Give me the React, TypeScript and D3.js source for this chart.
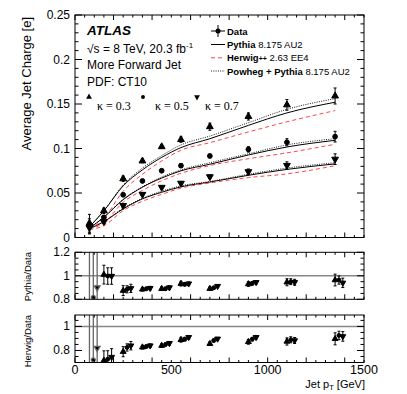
import React from 'react';
import * as d3 from 'd3';

// jet pT bin centres [GeV]
const ptBins = [75, 150, 250, 350, 450, 550, 700, 900, 1100, 1350];

// data, average jet charge for kappa = 0.3, 0.5, 0.7
const dataK03 = [0.016, 0.03, 0.066, 0.086, 0.102, 0.11, 0.1245, 0.136, 0.149, 0.159];
const dataK05 = [0.013, 0.0227, 0.048, 0.0635, 0.075, 0.0807, 0.0916, 0.099, 0.107, 0.1133];
const dataK07 = [0.011, 0.0178, 0.036, 0.0485, 0.0564, 0.061, 0.0683, 0.074, 0.081, 0.088];
const errK03 = [0.01, 0.003, 0.003, 0.002, 0.002, 0.003, 0.004, 0.004, 0.006, 0.009];
const errK05 = [0.008, 0.002, 0.002, 0.0015, 0.0015, 0.002, 0.002, 0.003, 0.004, 0.006];
const errK07 = [0.007, 0.002, 0.002, 0.0015, 0.0015, 0.002, 0.002, 0.003, 0.004, 0.006];

// Pythia 8.175 AU2
const pyK03 = [0.012, 0.03, 0.058, 0.076, 0.09, 0.101, 0.111, 0.126, 0.14, 0.152];
const pyK05 = [0.0106, 0.0227, 0.0425, 0.0565, 0.0668, 0.0749, 0.0823, 0.0927, 0.1017, 0.1092];
const pyK07 = [0.0099, 0.0178, 0.0321, 0.0434, 0.0508, 0.0569, 0.0623, 0.0699, 0.0765, 0.0827];
// Herwig++ 2.63 EE4
const hwK03 = [0.009, 0.0215, 0.052, 0.071, 0.086, 0.098, 0.1066, 0.1186, 0.13, 0.1426];
const hwK05 = [0.0094, 0.0165, 0.0396, 0.0529, 0.0638, 0.0721, 0.0809, 0.0885, 0.0951, 0.1048];
const hwK07 = [0.009, 0.0133, 0.0302, 0.0407, 0.0485, 0.0555, 0.0613, 0.0673, 0.0715, 0.0807];
// Powheg + Pythia 8.175 AU2
const pwK03 = [0.012, 0.03, 0.059, 0.078, 0.092, 0.104, 0.114, 0.129, 0.144, 0.156];
const pwK05 = [0.011, 0.023, 0.043, 0.057, 0.068, 0.076, 0.084, 0.094, 0.104, 0.111];
const pwK07 = [0.01, 0.018, 0.033, 0.044, 0.052, 0.058, 0.063, 0.071, 0.078, 0.084];

// ratios to data
const ratioPyK03 = [0.75, 1.01, 0.874, 0.885, 0.89, 0.933, 0.89, 0.93, 0.945, 0.964];
const ratioPyK05 = [0.817, 0.998, 0.885, 0.89, 0.89, 0.928, 0.898, 0.936, 0.95, 0.964];
const ratioPyK07 = [0.9, 0.998, 0.893, 0.895, 0.9, 0.933, 0.912, 0.945, 0.945, 0.94];
const ratioHwK03 = [0.56, 0.717, 0.79, 0.827, 0.84, 0.889, 0.856, 0.872, 0.875, 0.897];
const ratioHwK05 = [0.722, 0.728, 0.825, 0.833, 0.85, 0.894, 0.883, 0.894, 0.889, 0.925];
const ratioHwK07 = [0.82, 0.745, 0.84, 0.84, 0.86, 0.91, 0.897, 0.91, 0.883, 0.917];
const ratioErrK03 = [0.6, 0.08, 0.042, 0.015, 0.015, 0.02, 0.015, 0.02, 0.03, 0.05];
const ratioErrK05 = [0.6, 0.07, 0.03, 0.012, 0.012, 0.015, 0.012, 0.015, 0.025, 0.035];
const ratioErrK07 = [0.6, 0.07, 0.035, 0.015, 0.015, 0.015, 0.012, 0.015, 0.025, 0.04];

const kappaLabels = ['\u03ba = 0.3', '\u03ba = 0.5', '\u03ba = 0.7'];
const kappaShift = [0, 20, 40]; // GeV shift of markers in ratio panels

const font = 'Liberation Sans, Arial, Helvetica, sans-serif';
const RED = '#ff4545';

const X0 = 75, X1 = 364;
const x = d3.scaleLinear().domain([0, 1500]).range([X0, X1]);
const yMain = d3.scaleLinear().domain([0, 0.25]).range([237.5, 15]);
const yR1 = d3.scaleLinear().domain([0.8, 1.2]).range([299.3, 252.3]);
const yR2 = d3.scaleLinear().domain([0.7, 1.095]).range([362.5, 315]);

const triUp = d3.symbol(d3.symbolTriangle, 20)()!;
const circ = d3.symbol(d3.symbolCircle, 18)()!;
const triUpS = d3.symbol(d3.symbolTriangle, 15)()!;
const circS = d3.symbol(d3.symbolCircle, 12)()!;

function Marker({ k, cx, cy, small }: { k: number; cx: number; cy: number; small?: boolean }) {
  if (k === 1) return <path d={small ? circS : circ} transform={`translate(${cx},${cy})`} fill="#000" />;
  const rot = k === 2 ? ' rotate(180)' : '';
  return <path d={small ? triUpS : triUp} transform={`translate(${cx},${cy})${rot}`} fill="#000" />;
}

function Frame({ y, top, bottom }: { y: d3.ScaleLinear<number, number>; top: number; bottom: number }) {
  const [y0, y1] = y.range();
  const xt = d3.range(0, 1501, 50);
  const yMinor = d3.range(y.domain()[0], y.domain()[1] + 1e-9, top).map((v) => +v.toFixed(4));
  return (
    <g stroke="#000" strokeWidth={1} fill="none">
      <rect x={X0} y={y1} width={X1 - X0} height={y0 - y1} />
      {xt.map((t) => {
        const len = t % 200 === 0 ? 5 : 2.5;
        return (
          <g key={'x' + t}>
            <line x1={x(t)} x2={x(t)} y1={y0} y2={y0 - len} />
            <line x1={x(t)} x2={x(t)} y1={y1} y2={y1 + len} />
          </g>
        );
      })}
      {yMinor.map((v) => {
        const major = Math.abs(v / bottom - Math.round(v / bottom)) < 1e-6;
        const len = major ? 7 : 3.5;
        return (
          <g key={'y' + v}>
            <line x1={X0} x2={X0 + len} y1={y(v)} y2={y(v)} />
            <line x1={X1} x2={X1 - len} y1={y(v)} y2={y(v)} />
          </g>
        );
      })}
    </g>
  );
}

function Points({ vals, errs, y, shift, small, clip }: any) {
  return (
    <g clipPath={clip}>
      {vals.map((vs: number[], k: number) =>
        vs.map((v, i) => {
          const cx = x(ptBins[i] + (shift ? shift[k] : 0));
          const e = errs[k][i];
          const big = e > 0.3;
          return (
            <g key={k + '-' + i} stroke={big ? '#666' : '#000'} strokeWidth={big ? 1.3 : 1}>
              <line x1={cx} x2={cx} y1={y(v - e)} y2={y(v + e)} />
              {!big && <line x1={cx - 1.5} x2={cx + 1.5} y1={y(v - e)} y2={y(v - e)} />}
              {!big && <line x1={cx - 1.5} x2={cx + 1.5} y1={y(v + e)} y2={y(v + e)} />}
              <Marker k={k} cx={cx} cy={y(v)} small={small} />
            </g>
          );
        })
      )}
    </g>
  );
}

export default function App() {
  const line = d3
    .line<number>()
    .x((_, i) => x(ptBins[i]))
    .y((d) => yMain(d))
    .curve(d3.curveMonotoneX);

  const data = [dataK03, dataK05, dataK07];
  const errs = [errK03, errK05, errK07];

  return (
    <svg width={407} height={394} style={{ position: 'absolute', left: 0, top: 0, background: '#fff' }} fontFamily={font}>
      <defs>
        <clipPath id="cMain"><rect x={X0} y={15} width={X1 - X0} height={222.5} /></clipPath>
        <clipPath id="cR1"><rect x={X0} y={252.3} width={X1 - X0} height={47} /></clipPath>
        <clipPath id="cR2"><rect x={X0} y={315} width={X1 - X0} height={47.5} /></clipPath>
      </defs>

      {/* main panel */}
      <g clipPath="url(#cMain)" fill="none">
        {[pyK03, pyK05, pyK07].map((d, k) => <path key={'py' + k} d={line(d)!} stroke="#000" strokeWidth={1} />)}
        {[hwK03, hwK05, hwK07].map((d, k) => <path key={'hw' + k} d={line(d)!} stroke={RED} strokeWidth={1} strokeDasharray="4,3" />)}
        {[pwK03, pwK05, pwK07].map((d, k) => <path key={'pw' + k} d={line(d)!} stroke="#000" strokeWidth={0.9} strokeDasharray="1,1.3" />)}
      </g>
      <Points vals={data} errs={errs} y={yMain} clip="url(#cMain)" />
      <Frame y={yMain} top={0.01} bottom={0.05} />
      {[0, 0.05, 0.1, 0.15, 0.2, 0.25].map((t) => (
        <text key={t} x={70} y={yMain(t) + 4} fontSize={12} textAnchor="end">{t === 0 ? '0' : String(t)}</text>
      ))}
      <text transform="translate(31,17) rotate(-90)" fontSize={13} textAnchor="end">Average Jet Charge [e]</text>

      {/* labels */}
      <text x={87} y={35} fontSize={13.5} fontWeight="bold" fontStyle="italic">ATLAS</text>
      <text x={87} y={52.5} fontSize={12}>{'\u221as = 8 TeV, 20.3 fb'}<tspan dy={-5} fontSize={8}>-1</tspan></text>
      <text x={87} y={69} fontSize={12}>More Forward Jet</text>
      <text x={87} y={85.5} fontSize={12}>PDF: CT10</text>
      {kappaLabels.map((lab, k) => (
        <g key={lab}>
          <Marker k={k} cx={[89, 143, 197][k]} cy={97} small />
          <text x={[97, 155, 205][k]} y={110} fontSize={12} fontFamily="Liberation Serif, Times New Roman, serif">{lab}</text>
        </g>
      ))}

      {/* legend */}
      <g fontSize={9.5}>
        <line x1={211} x2={225} y1={31} y2={31} stroke="#000" />
        <line x1={218} x2={218} y1={25} y2={37} stroke="#000" />
        <circle cx={218} cy={31} r={2.5} fill="#000" />
        <text x={227} y={34.5} fontWeight="bold">Data</text>
        <line x1={211} x2={225} y1={44.5} y2={44.5} stroke="#000" />
        <text x={227} y={48}><tspan fontWeight="bold">Pythia</tspan> 8.175 AU2</text>
        <line x1={211} x2={225} y1={57.8} y2={57.8} stroke={RED} strokeDasharray="4,3" />
        <text x={227} y={61.3}><tspan fontWeight="bold">Herwig</tspan><tspan fontWeight="bold" fontSize={7}>++</tspan> 2.63 EE4</text>
        <line x1={211} x2={225} y1={71} y2={71} stroke="#000" strokeWidth={0.9} strokeDasharray="1,1.3" />
        <text x={227} y={74.5}><tspan fontWeight="bold">Powheg + Pythia</tspan> 8.175 AU2</text>
      </g>

      {/* Pythia / Data */}
      <line x1={X0} x2={X1} y1={yR1(1)} y2={yR1(1)} stroke="#888" strokeWidth={1.5} />
      <Points vals={[ratioPyK03, ratioPyK05, ratioPyK07]} errs={[ratioErrK03, ratioErrK05, ratioErrK07]} y={yR1} shift={kappaShift} small clip="url(#cR1)" />
      <Frame y={yR1} top={0.05} bottom={0.2} />
      {[0.8, 1, 1.2].map((t) => (
        <text key={t} x={70} y={yR1(t) + 4} fontSize={12} textAnchor="end">{String(t)}</text>
      ))}
      <text transform="translate(31,252) rotate(-90)" fontSize={9.5} textAnchor="end">Pythia/Data</text>

      {/* Herwig / Data */}
      <line x1={X0} x2={X1} y1={yR2(1)} y2={yR2(1)} stroke="#888" strokeWidth={1.5} />
      <Points vals={[ratioHwK03, ratioHwK05, ratioHwK07]} errs={[ratioErrK03, ratioErrK05, ratioErrK07]} y={yR2} shift={kappaShift} small clip="url(#cR2)" />
      <Frame y={yR2} top={0.05} bottom={0.2} />
      {[0.8, 1].map((t) => (
        <text key={t} x={70} y={yR2(t) + 4} fontSize={12} textAnchor="end">{String(t)}</text>
      ))}
      <text transform="translate(31,315) rotate(-90)" fontSize={9.5} textAnchor="end">Herwig/Data</text>

      {/* x axis */}
      {[0, 500, 1000, 1500].map((t) => (
        <text key={t} x={x(t)} y={374} fontSize={12.5} textAnchor="middle">{t}</text>
      ))}
      <text x={365} y={388} fontSize={11} textAnchor="end">Jet p<tspan fontSize={7.5} dy={2}>T</tspan><tspan dy={-2}> [GeV]</tspan></text>
    </svg>
  );
}
